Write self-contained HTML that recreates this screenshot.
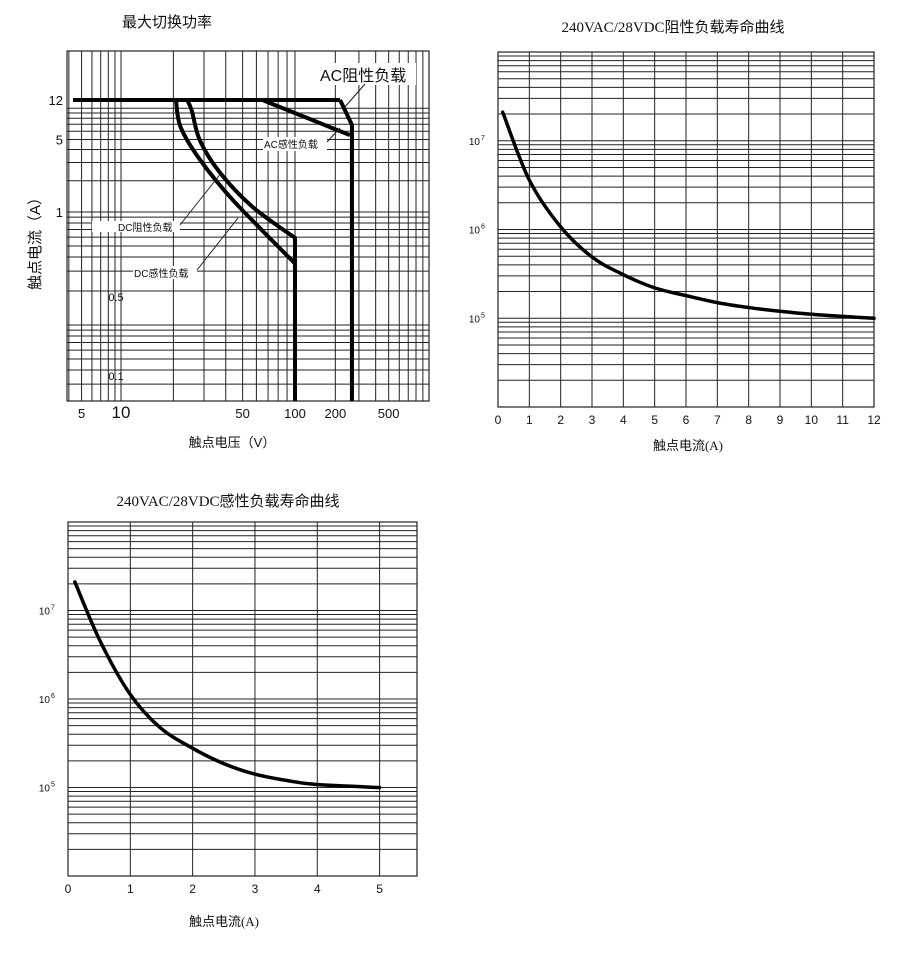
<!DOCTYPE html>
<html><head><meta charset="utf-8"><title>Relay charts</title>
<style>
html,body{margin:0;padding:0;background:#fff;}
svg{display:block;}
text{fill:#111;}
.sans{font-family:"Liberation Sans","Noto Sans CJK SC",sans-serif;}
.serif{font-family:"Liberation Serif","Noto Sans CJK SC",serif;}
</style></head>
<body>
<svg id="root" width="900" height="960" viewBox="0 0 900 960" xmlns="http://www.w3.org/2000/svg">
  <rect x="0" y="0" width="900" height="960" fill="#fff"/>
  <g>
    <text class="sans" x="167" y="27" font-size="15" text-anchor="middle">最大切换功率</text>
    <text class="sans" x="40" y="240" font-size="15" text-anchor="middle" transform="rotate(-90 40 240)">触点电流（A）</text>
    <text class="sans" x="232" y="447" font-size="13" text-anchor="middle">触点电压（V）</text>
    <g id="c1"></g>
  </g>
  <g>
    <text class="serif" x="673" y="32" font-size="15" text-anchor="middle">240VAC/28VDC阻性负载寿命曲线</text>
    <text class="serif" x="688" y="450" font-size="13" text-anchor="middle">触点电流(A)</text>
    <g id="c2"></g>
  </g>
  <g>
    <text class="serif" x="228" y="506" font-size="15" text-anchor="middle">240VAC/28VDC感性负载寿命曲线</text>
    <text class="serif" x="224" y="926" font-size="13" text-anchor="middle">触点电流(A)</text>
    <g id="c3"></g>
  </g>
</svg>
<script>
// ---------- Chart 1 data ----------
const c1XTicks = [5, 10, 50, 100, 200, 500];
const c1YTicks = [12, 5, 1, 0.5, 0.1];
const c1MaxCurrent = 12;
const c1AcResV = [20, 217, 266];
const c1AcResA = [12, 12, 6.9];
const c1AcIndV = [65, 257];
const c1AcIndA = [12, 5.5];
const c1AcMaxV = 266;
const c1DcResV = [24, 25.5, 28.4, 37, 57, 100];
const c1DcResA = [12, 9.5, 4.9, 2.4, 1.12, 0.59];
const c1DcIndV = [20.7, 22, 28.4, 44, 100];
const c1DcIndA = [12, 6.6, 3.2, 1.3, 0.35];
const c1MinA = 0.005;
// ---------- Chart 2 data ----------
const c2XTicks = [0,1,2,3,4,5,6,7,8,9,10,11,12];
const c2YTicks = [5, 6, 7];
const c2Current = [0.15,1,2,3,4,5,6,7,8,9,10,11,12];
const c2Life = [2.1e7,3.6e6,1.07e6,4.9e5,3.1e5,2.2e5,1.8e5,1.5e5,1.32e5,1.2e5,1.11e5,1.05e5,1e5];
// ---------- Chart 3 data ----------
const c3XTicks = [0,1,2,3,4,5];
const c3YTicks = [5, 6, 7];
const c3Current = [0.11,0.51,0.99,1.47,1.99,2.47,2.96,3.51,3.99,5];
const c3Life = [2.1e7,4.6e6,1.15e6,4.8e5,2.8e5,1.9e5,1.44e5,1.2e5,1.08e5,1e5];

const NS = "http://www.w3.org/2000/svg";
function mk(parent, tag, attrs, name) {
  const el = document.createElementNS(NS, tag);
  for (const k in attrs) el.setAttribute(k, attrs[k]);
  
  
  parent.appendChild(el);
  return el;
}
function pw(v, vals, pxs) {
  const l = Math.log10(v);
  let i = 0;
  while (i < vals.length - 2 && l > Math.log10(vals[i + 1])) i++;
  const a = Math.log10(vals[i]), b = Math.log10(vals[i + 1]);
  return pxs[i] + (l - a) / (b - a) * (pxs[i + 1] - pxs[i]);
}
function smooth(P) {
  let d = 'M' + P[0][0] + ',' + P[0][1];
  for (let i = 0; i < P.length - 1; i++) {
    const p0 = P[i - 1] || P[i], p1 = P[i], p2 = P[i + 1], p3 = P[i + 2] || P[i + 1];
    const c1x = p1[0] + (p2[0] - p0[0]) / 6, c1y = p1[1] + (p2[1] - p0[1]) / 6;
    const c2x = p2[0] - (p3[0] - p1[0]) / 6, c2y = p2[1] - (p3[1] - p1[1]) / 6;
    d += ' C' + c1x + ',' + c1y + ' ' + c2x + ',' + c2y + ' ' + p2[0] + ',' + p2[1];
  }
  return d;
}

// ===== Chart 1 =====
(function () {
  const g = document.getElementById('c1');
  const L = 67, R = 429, T = 51, B = 401;
  const xs = v => pw(v, [1, 10, 100, 1000], [-10, 121, 295, 429]);
  const ys = v => pw(v, [0.01, 0.1, 1, 12], [438, 325, 212, 100]);
  const clip = mk(g, 'clipPath', {id: 'cp1'}, 'chart1-clip');
  mk(clip, 'rect', {x: L, y: T, width: R - L, height: B - T}, 'chart1-clip-rect');
  const grid = mk(g, 'g', {'clip-path': 'url(#cp1)', stroke: '#222', 'stroke-width': 1}, 'chart1-grid');
  for (let d = 1; d <= 100; d *= 10) for (let m = 1; m <= 9; m++) {
    const x = xs(d * m);
    if (x > L && x < R) mk(grid, 'line', {x1: x, y1: T, x2: x, y2: B}, 'chart1-v-gridline');
  }
  for (let d = 0.01; d <= 1.01; d *= 10) for (let m = 1; m <= 9; m++) {
    const y = ys(d * m);
    if (y > T && y < B) mk(grid, 'line', {x1: L, y1: y, x2: R, y2: y}, 'chart1-h-gridline');
  }
  mk(grid, 'line', {x1: L, y1: ys(10), x2: R, y2: ys(10)}, 'chart1-h-gridline');
  mk(g, 'rect', {x: L, y: T, width: R - L, height: B - T, fill: 'none', stroke: '#222', 'stroke-width': 1.2}, 'chart1-frame');
  c1XTicks.forEach(v => {
    const t = mk(g, 'text', {x: xs(v), y: 418, 'font-size': v === 10 ? 17 : 13, 'text-anchor': 'middle', class: 'sans'}, 'chart1-x-tick-label');
    t.textContent = v;
  });
  c1YTicks.forEach(v => {
    const inner = v < 1;
    const t = mk(g, 'text', {x: inner ? 116 : 63, y: ys(v) + (inner ? 55 : 5), 'font-size': inner ? 11 : 13, 'text-anchor': inner ? 'middle' : 'end', class: 'sans'}, 'chart1-y-tick-label');
    t.textContent = v;
  });
  const curves = mk(g, 'g', {'clip-path': 'url(#cp1)', fill: 'none', stroke: '#000', 'stroke-width': 4, 'stroke-linejoin': 'miter'}, 'chart1-curves');
  const poly = (V, A, name) => mk(curves, 'polyline', {points: V.map((v, i) => xs(v) + ',' + ys(A[i])).join(' ')}, name);
  mk(curves, 'line', {x1: 73, y1: ys(c1MaxCurrent), x2: xs(c1AcResV[1]), y2: ys(c1MaxCurrent)}, 'max-current-line');
  poly(c1AcResV.slice(1).concat([c1AcMaxV]), c1AcResA.slice(1).concat([c1MinA]), 'ac-resistive-curve');
  poly(c1AcIndV, c1AcIndA, 'ac-inductive-curve');
  const sc = (V, A, name) => {
    const P = V.map((v, i) => [xs(v), ys(A[i])]);
    const last = P[P.length - 1];
    mk(curves, 'path', {d: smooth(P) + ' L' + last[0] + ',' + ys(c1MinA)}, name);
  };
  sc(c1DcResV, c1DcResA, 'dc-resistive-curve');
  sc(c1DcIndV, c1DcIndA, 'dc-inductive-curve');
  mk(g, 'rect', {x: 318, y: 63, width: 98, height: 22, fill: '#fff'}, 'ac-resistive-label-bg');
  const a1 = mk(g, 'text', {x: 320, y: 81, 'font-size': 16, class: 'sans'}, 'ac-resistive-label');
  a1.textContent = 'AC阻性负载';
  mk(g, 'line', {x1: 365, y1: 84, x2: 344, y2: 108, stroke: '#222', 'stroke-width': 1}, 'ac-resistive-leader');
  mk(g, 'rect', {x: 263, y: 137, width: 64, height: 14, fill: '#fff'}, 'ac-inductive-label-bg');
  const a2 = mk(g, 'text', {x: 264, y: 148, 'font-size': 10, class: 'sans'}, 'ac-inductive-label');
  a2.textContent = 'AC感性负载';
  mk(g, 'line', {x1: 327, y1: 142, x2: 340, y2: 128, stroke: '#222', 'stroke-width': 1}, 'ac-inductive-leader');
  mk(g, 'rect', {x: 92, y: 221, width: 88, height: 11, fill: '#fff'}, 'dc-resistive-label-bg');
  const a3 = mk(g, 'text', {x: 118, y: 231, 'font-size': 10, class: 'sans'}, 'dc-resistive-label');
  a3.textContent = 'DC阻性负载';
  mk(g, 'line', {x1: 180, y1: 225, x2: 222, y2: 172, stroke: '#222', 'stroke-width': 1}, 'dc-resistive-leader');
  mk(g, 'rect', {x: 133, y: 266, width: 64, height: 13, fill: '#fff'}, 'dc-inductive-label-bg');
  const a4 = mk(g, 'text', {x: 134, y: 277, 'font-size': 10, class: 'sans'}, 'dc-inductive-label');
  a4.textContent = 'DC感性负载';
  mk(g, 'line', {x1: 197, y1: 270, x2: 238, y2: 218, stroke: '#222', 'stroke-width': 1}, 'dc-inductive-leader');
})();

// ===== Life charts =====
function lifeChart(id, L, R, T, B, xMax, xTicks, yTicks, cur, life, prefix) {
  const g = document.getElementById(id);
  const xs = v => L + v / xMax * (R - L);
  const ys = v => B - (Math.log10(v) - 4) / 4 * (B - T);
  const grid = mk(g, 'g', {stroke: '#222', 'stroke-width': 1}, prefix + '-grid');
  xTicks.forEach(v => { if (v > 0) mk(grid, 'line', {x1: xs(v), y1: T, x2: xs(v), y2: B}, prefix + '-v-gridline'); });
  for (let d = 1e4; d < 1e8; d *= 10) for (let m = 1; m <= 9; m++) {
    const y = ys(d * m);
    if (y > T + 0.5 && y < B - 0.5) mk(grid, 'line', {x1: L, y1: y, x2: R, y2: y}, prefix + '-h-gridline');
  }
  mk(g, 'rect', {x: L, y: T, width: R - L, height: B - T, fill: 'none', stroke: '#222', 'stroke-width': 1.2}, prefix + '-frame');
  xTicks.forEach(v => {
    const t = mk(g, 'text', {x: xs(v), y: B + 17, 'font-size': 12, 'text-anchor': 'middle', class: 'sans'}, prefix + '-x-tick-label');
    t.textContent = v;
  });
  yTicks.forEach(e => {
    const t = mk(g, 'text', {x: L - 18, y: ys(Math.pow(10, e)) + 4, 'font-size': 10, 'text-anchor': 'end', class: 'sans'}, prefix + '-y-tick-label');
    t.textContent = '10';
    const s = mk(g, 'text', {x: L - 17, y: ys(Math.pow(10, e)) - 1, 'font-size': 7, class: 'sans'}, prefix + '-y-tick-exponent');
    s.textContent = e;
  });
  const P = cur.map((c, i) => [xs(c), ys(life[i])]);
  mk(g, 'path', {d: smooth(P), fill: 'none', stroke: '#000', 'stroke-width': 3.5, 'stroke-linecap': 'round'}, prefix + '-life-curve');
}
lifeChart('c2', 498, 874, 52, 407, 12, c2XTicks, c2YTicks, c2Current, c2Life, 'chart2');
lifeChart('c3', 68, 417, 522, 876, 5.6, c3XTicks, c3YTicks, c3Current, c3Life, 'chart3');
</script>
</body></html>
